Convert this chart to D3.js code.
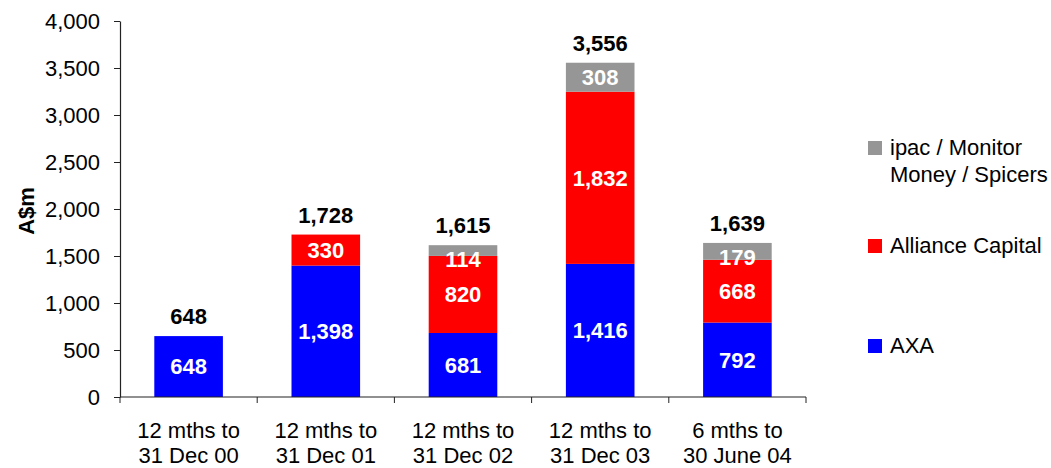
<!DOCTYPE html>
<html>
<head>
<meta charset="utf-8">
<script src="https://cdn.jsdelivr.net/npm/d3@7"></script>
<style>
  html, body { margin: 0; padding: 0; background: #fff; }
  svg { display: block; font-family: "Liberation Sans", Arial, sans-serif; }
</style>
</head>
<body>
<svg id="chart" width="1051" height="468"></svg>
<script>
const categories = [
  ["12 mths to", "31 Dec 00"],
  ["12 mths to", "31 Dec 01"],
  ["12 mths to", "31 Dec 02"],
  ["12 mths to", "31 Dec 03"],
  ["6 mths to", "30 June 04"]
];
const axaValues      = [648, 1398, 681, 1416, 792];
const allianceValues = [0, 330, 820, 1832, 668];
const ipacValues     = [0, 0, 114, 308, 179];
const totals         = [648, 1728, 1615, 3556, 1639];
const seriesNames  = ["AXA", "Alliance Capital", "ipac / Monitor Money / Spicers"];
const seriesColors = ["#0000FF", "#FF0000", "#969696"];
const yTicks = [0, 500, 1000, 1500, 2000, 2500, 3000, 3500, 4000];

const svg = d3.select("#chart");
const FS = 22;

const x = d3.scaleBand().domain(d3.range(categories.length)).range([120, 806])
  .paddingInner(0.5).paddingOuter(0.25);
const y = d3.scaleLinear().domain([0, 4000]).range([397, 21]);

const rows = categories.map((c, i) => ({i, AXA: axaValues[i], Alliance: allianceValues[i], ipac: ipacValues[i]}));
const keys = ["AXA", "Alliance", "ipac"];
const stack = d3.stack().keys(keys)(rows);

// Bars
stack.forEach((layer, k) => {
  const g = svg.append("g");
  layer.forEach((d, i) => {
    const v = d[1] - d[0];
    if (v <= 0) return;
    const top = y(d[1]), bot = y(d[0]);
    g.append("rect")
      .attr("x", x(i)).attr("width", x.bandwidth())
      .attr("y", top).attr("height", bot - top)
      .attr("fill", seriesColors[k]);
    const cy = Math.max((top + bot) / 2, top + 14);
    g.append("text")
      .attr("x", x(i) + x.bandwidth() / 2).attr("y", cy)
      .attr("dy", "0.36em")
      .attr("text-anchor", "middle")
      .attr("font-size", FS).attr("font-weight", "bold")
      .attr("fill", "#fff")
      .text(d3.format(",")(v));
  });
});

// Totals
svg.append("g").selectAll("text").data(totals).join("text")
  .attr("x", (d, i) => x(i) + x.bandwidth() / 2)
  .attr("y", d => y(d) - 12)
  .attr("text-anchor", "middle")
  .attr("font-size", FS).attr("font-weight", "bold")
  .attr("fill", "#000")
  .text(d => d3.format(",")(d));

// Y axis
const yAxis = svg.append("g").attr("transform", "translate(120,0)")
  .call(d3.axisLeft(y).tickValues(yTicks).tickFormat(d3.format(","))
    .tickSize(6).tickSizeOuter(0).tickPadding(14));
yAxis.select(".domain").attr("stroke", "#222").attr("stroke-width", 1.2);
yAxis.selectAll(".tick line").attr("stroke", "#222");
yAxis.selectAll(".tick text").attr("font-size", FS).attr("fill", "#000")
  .attr("font-family", "Liberation Sans, Arial, sans-serif");

// X axis
const xg = svg.append("g");
xg.append("line").attr("x1", x.range()[0]).attr("x2", x.range()[1])
  .attr("y1", y(0)).attr("y2", y(0)).attr("stroke", "#222").attr("stroke-width", 1.2);
d3.range(categories.length + 1).forEach(i => {
  const px = x.range()[0] + i * x.step();
  xg.append("line").attr("x1", px).attr("x2", px)
    .attr("y1", y(0)).attr("y2", y(0) + 6).attr("stroke", "#222");
});
categories.forEach((c, i) => {
  const t = xg.append("text").attr("text-anchor", "middle").attr("font-size", FS).attr("fill", "#000");
  c.forEach((line, j) => {
    t.append("tspan").attr("x", x(i) + x.bandwidth() / 2).attr("y", 438 + j * 25).text(line);
  });
});

// Y label
svg.append("text").attr("transform", "translate(34,211) rotate(-90)")
  .attr("text-anchor", "middle").attr("font-size", FS).attr("font-weight", "bold")
  .text("A$m");

// Legend
const legend = [
  {k: 2, lines: ["ipac / Monitor", "Money / Spicers"], y: 155},
  {k: 1, lines: ["Alliance Capital"], y: 253},
  {k: 0, lines: ["AXA"], y: 353}
];
legend.forEach(L => {
  svg.append("rect").attr("x", 868).attr("y", L.y - 14).attr("width", 14).attr("height", 14)
    .attr("fill", seriesColors[L.k]);
  const t = svg.append("text").attr("font-size", FS).attr("fill", "#000");
  L.lines.forEach((line, j) => {
    t.append("tspan").attr("x", 890).attr("y", L.y + j * 26.5).text(line);
  });
});
</script>
</body>
</html>
